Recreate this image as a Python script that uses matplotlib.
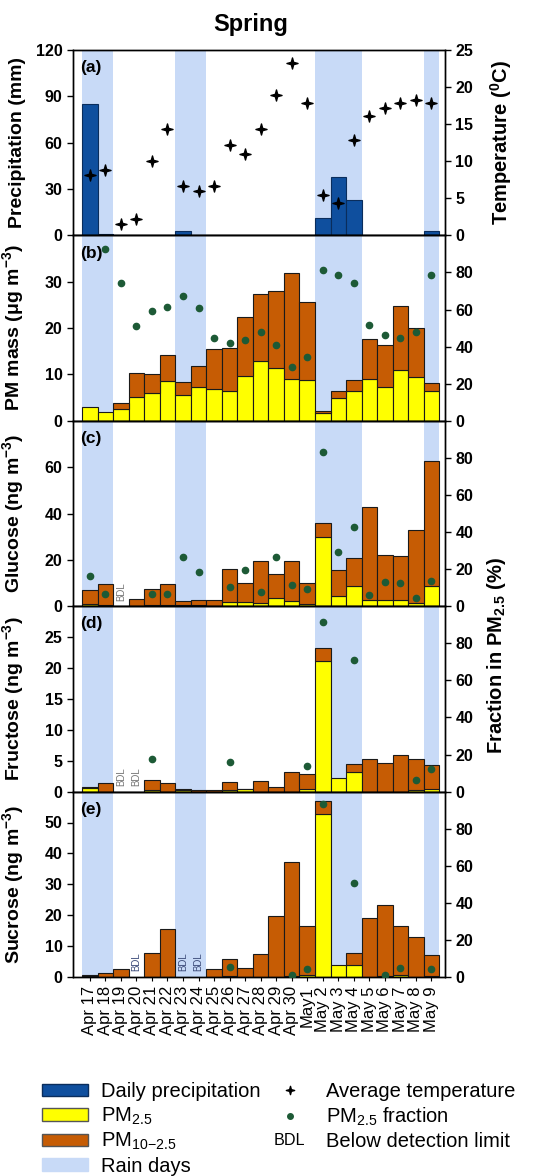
import numpy as np
import matplotlib
matplotlib.use('Agg')
import matplotlib.pyplot as plt
import matplotlib.text as mtext
from matplotlib.patches import Patch
from matplotlib.lines import Line2D
from matplotlib.path import Path
from matplotlib.legend_handler import HandlerBase

plt.rcParams['font.family'] = ['Liberation Sans', 'DejaVu Sans']
plt.rcParams['mathtext.fontset'] = 'custom'
plt.rcParams['mathtext.rm'] = 'Liberation Sans'
plt.rcParams['mathtext.bf'] = 'Liberation Sans:bold'
plt.rcParams['mathtext.it'] = 'Liberation Sans:italic'
plt.rcParams['mathtext.default'] = 'regular'

nan = np.nan

# sampling days
dates = ['Apr 17', 'Apr 18', 'Apr 19', 'Apr 20', 'Apr 21', 'Apr 22', 'Apr 23', 'Apr 24',
         'Apr 25', 'Apr 26', 'Apr 27', 'Apr 28', 'Apr 29', 'Apr 30', 'May1', 'May 2',
         'May 3', 'May 4', 'May 5', 'May 6', 'May 7', 'May 8', 'May 9']
rain_days = ['Apr 17', 'Apr 18', 'Apr 23', 'Apr 24', 'May 2', 'May 3', 'May 4', 'May 9']

# (a) weather
precip = [85, 1, 0, 0, 0, 0, 3, 0, 0, 0, 0, 0, 0, 0, 0, 11, 38, 23, 0, 0, 0, 0, 3]
temp = [8.2, 8.8, 1.6, 2.2, 10.0, 14.4, 6.6, 6.0, 6.6, 12.2, 11.0, 14.4, 18.9, 23.3,
        17.8, 5.5, 4.4, 12.8, 16.1, 17.2, 17.8, 18.3, 17.8]

# (b) PM mass
pm_fine = [3.0, 2.0, 2.5, 5.2, 5.9, 8.6, 5.5, 7.2, 6.9, 6.5, 9.7, 12.9, 11.4, 9.0, 8.7,
           1.7, 5.0, 6.5, 9.0, 7.3, 10.9, 9.5, 6.4]
pm_coarse = [0.0, 0.0, 1.3, 5.2, 4.2, 5.6, 2.8, 4.7, 8.6, 9.3, 12.6, 14.4, 16.7, 22.8,
             17.0, 0.5, 1.5, 2.3, 8.6, 9.0, 13.9, 10.6, 1.8]
pm_frac = [nan, 92.5, 74.1, 51.0, 59.1, 61.4, 67.5, 60.9, 44.6, 41.9, 43.7, 48.0, 40.8,
           28.8, 34.4, 81.6, 78.4, 74.3, 51.9, 46.2, 44.7, 47.8, 78.9]

# (c) glucose (nan = BDL)
glu_fine = [1.1, 0.6, nan, 0.0, 0.5, 0.6, 0.6, 0.5, 0.0, 1.6, 1.9, 1.4, 3.7, 2.2, 0.9,
            29.9, 4.5, 8.8, 2.5, 2.8, 2.7, 1.4, 8.7]
glu_coarse = [5.7, 8.8, nan, 3.0, 7.0, 8.9, 1.6, 2.2, 2.7, 14.4, 8.0, 17.9, 10.0, 17.5,
              9.0, 6.1, 11.0, 11.8, 40.5, 19.1, 18.9, 31.6, 54.0]
glu_frac = [16.1, 6.4, nan, nan, 6.8, 6.8, 26.5, 18.4, nan, 10.2, 19.5, 7.5, 26.7, 11.3,
            9.1, 83.2, 29.2, 42.6, 5.9, 12.9, 12.7, 4.3, 13.8]

# (d) fructose
fru_fine = [0.6, 0.0, nan, nan, 0.3, 0.0, 0.2, 0.0, 0.0, 0.25, 0.4, 0.0, 0.0, 0.0, 0.4,
            21.2, 2.2, 3.1, 0.0, 0.0, 0.0, 0.3, 0.5]
fru_coarse = [0.1, 1.4, nan, nan, 1.5, 1.45, 0.3, 0.3, 0.3, 1.25, 0.1, 1.65, 0.8, 3.1,
              2.4, 2.1, 0.0, 1.4, 5.2, 4.7, 6.0, 5.0, 3.8]
fru_frac = [nan, nan, nan, nan, 17.6, nan, nan, nan, nan, 16.1, nan, nan, nan, nan, 13.6,
            91.5, nan, 70.9, nan, nan, nan, 6.3, 12.0]

# (e) sucrose
suc_fine = [0.3, 0.0, 0.0, nan, 0.0, 0.0, nan, nan, 0.0, 0.3, 0.0, 0.0, 0.0, 0.4, 0.7,
            52.9, 3.9, 3.9, 0.0, 0.3, 0.8, 0.0, 0.3]
suc_coarse = [0.45, 1.2, 2.7, nan, 7.85, 15.4, nan, nan, 2.7, 5.5, 2.9, 7.3, 19.6, 36.7,
              15.8, 3.9, 0.0, 3.8, 19.0, 23.0, 15.7, 12.8, 6.7]
suc_frac = [nan, nan, nan, nan, nan, nan, nan, nan, nan, 5.4, nan, nan, nan, 1.1, 4.5,
            93.1, nan, 50.7, nan, 1.1, 4.9, nan, 4.1]

c_precip = '#0f4f9e'
c_fine = '#ffff00'
c_coarse = '#c65c04'
c_rain = '#c8daf7'
c_dot = '#1d5a36'
edge = '#1a1a1a'

# thin four-pointed star for the temperature points
star4 = Path.unit_regular_star(4, 0.3)

x = np.arange(len(dates))


def nz(v):
    v = np.asarray(v, dtype=float)
    return np.where(v > 0, v, nan)


W, H = 534, 1176
fig = plt.figure(figsize=(W / 100, H / 100), dpi=100)
left, right = 73 / W, 445 / W
top_px, bot_px = 50, 977
ph = (bot_px - top_px) / 5

axes = []
for k in range(5):
    y0 = 1 - (top_px + (k + 1) * ph) / H
    ax = fig.add_axes([left, y0, right - left, ph / H])
    axes.append(ax)

panels = [
    ('(a)', 'Precipitation (mm)', (0, 120), [0, 30, 60, 90, 120]),
    ('(b)', r'PM mass (μg m$^{\mathbf{-3}}$)', (0, 40), [0, 10, 20, 30]),
    ('(c)', r'Glucose (ng m$^{\mathbf{-3}}$)', (0, 80), [0, 20, 40, 60]),
    ('(d)', r'Fructose (ng m$^{\mathbf{-3}}$)', (0, 30), [0, 5, 10, 15, 20, 25]),
    ('(e)', r'Sucrose (ng m$^{\mathbf{-3}}$)', (0, 60), [0, 10, 20, 30, 40, 50]),
]
stacks = [None, (pm_fine, pm_coarse, pm_frac, None),
          (glu_fine, glu_coarse, glu_frac, '#777777'),
          (fru_fine, fru_coarse, fru_frac, '#777777'),
          (suc_fine, suc_coarse, suc_frac, '#3d4c7a')]

for k, ax in enumerate(axes):
    tag, ylab, ylim, yt = panels[k]
    for d in rain_days:
        i = dates.index(d)
        ax.axvspan(i - 0.5, i + 0.5, color=c_rain, lw=0, zorder=0)
    ax2 = ax.twinx()
    if k == 0:
        ax.bar(x, nz(precip), width=1, color=c_precip, edgecolor='#0a2d5c', lw=0.8, zorder=2)
        ax2.plot(x, temp, ls='none', marker=star4, ms=8, color='black', zorder=3)
        ax2.set_ylim(0, 25)
        ax2.set_yticks([0, 5, 10, 15, 20, 25])
        ax2.set_ylabel('Temperature ($\\mathbf{^0}$C)', fontsize=14.5, fontweight='bold')
        ax2.yaxis.set_label_coords(1.115, 0.5)
    else:
        fine, coarse, frac, bdl_col = stacks[k]
        fine_a = np.nan_to_num(np.asarray(fine, dtype=float))
        ax.bar(x, nz(fine), width=1, color=c_fine, edgecolor=edge, lw=0.8, zorder=2)
        ax.bar(x, nz(coarse), width=1, bottom=fine_a, color=c_coarse, edgecolor=edge,
               lw=0.8, zorder=2)
        ax2.plot(x, frac, ls='none', marker='o', ms=4.5, color=c_dot, zorder=3)
        ax2.set_ylim(0, 100)
        ax2.set_yticks([0, 20, 40, 60, 80])
        if bdl_col is not None:
            for i in range(len(dates)):
                if np.isnan(fine[i]):
                    ax.annotate('BDL', xy=(i, 0), xytext=(0, 4), textcoords='offset points',
                                rotation=90, ha='center', va='bottom', fontsize=7,
                                color=bdl_col, zorder=4)
    ax.set_xlim(-1.08, 22.87)
    ax.set_ylim(*ylim)
    ax.set_yticks(yt)
    ax.set_xticks(x)
    ax.set_ylabel(ylab, fontsize=14, fontweight='bold')
    ax.yaxis.set_label_coords(-0.125, 0.5)
    ax.text(0.02, 0.905, tag, transform=ax.transAxes, fontsize=12.5, fontweight='bold',
            ha='left', va='center', zorder=5)
    for a in (ax, ax2):
        a.tick_params(axis='y', direction='out', length=4, width=1, labelsize=11.5)
        for lbl in a.get_yticklabels():
            lbl.set_fontweight('bold')
        for s in a.spines.values():
            s.set_linewidth(1)
    ax.tick_params(axis='x', direction='out', length=3, width=0.8)
    if k < 4:
        ax.set_xticklabels([])
    else:
        ax.set_xticklabels(dates, rotation=90, fontsize=12)

fig.text(251 / W, 1 - 24 / H, 'Spring', fontsize=17, fontweight='bold', ha='center', va='center')
fig.text(497 / W, 1 - 656 / H, r'Fraction in PM$_{\mathbf{2.5}}$ (%)', rotation=90,
         fontsize=14.5, fontweight='bold', ha='center', va='center')


class BDLKey:
    pass


class BDLHandler(HandlerBase):
    def create_artists(self, legend, orig_handle, xdescent, ydescent, width, height,
                       fontsize, trans):
        t = mtext.Text(width / 2 - xdescent, height / 2 - ydescent, 'BDL', ha='center',
                       va='center', fontsize=fontsize * 0.8, transform=trans)
        return [t]


handles = [Patch(facecolor=c_precip, edgecolor='#0a2d5c'),
           Patch(facecolor=c_fine, edgecolor='#555555'),
           Patch(facecolor=c_coarse, edgecolor='#555555'),
           Patch(facecolor=c_rain, edgecolor=c_rain),
           Line2D([], [], ls='none', marker=star4, ms=6, color='black'),
           Line2D([], [], ls='none', marker='o', ms=4, color=c_dot),
           BDLKey()]
labels = ['Daily precipitation', 'PM$_{2.5}$', 'PM$_{10{-}2.5}$', 'Rain days',
          'Average temperature', 'PM$_{2.5}$ fraction', 'Below detection limit']
fig.legend(handles, labels, ncol=2, loc='upper left', bbox_to_anchor=(42 / W, 1 - 1082 / H),
           frameon=False, fontsize=14.5, handlelength=2.29, handleheight=0.6,
           handletextpad=0.65, columnspacing=0.3, labelspacing=0.22, borderaxespad=0,
           borderpad=0, handler_map={BDLKey: BDLHandler()})

fig.savefig('out.png', dpi=100)
